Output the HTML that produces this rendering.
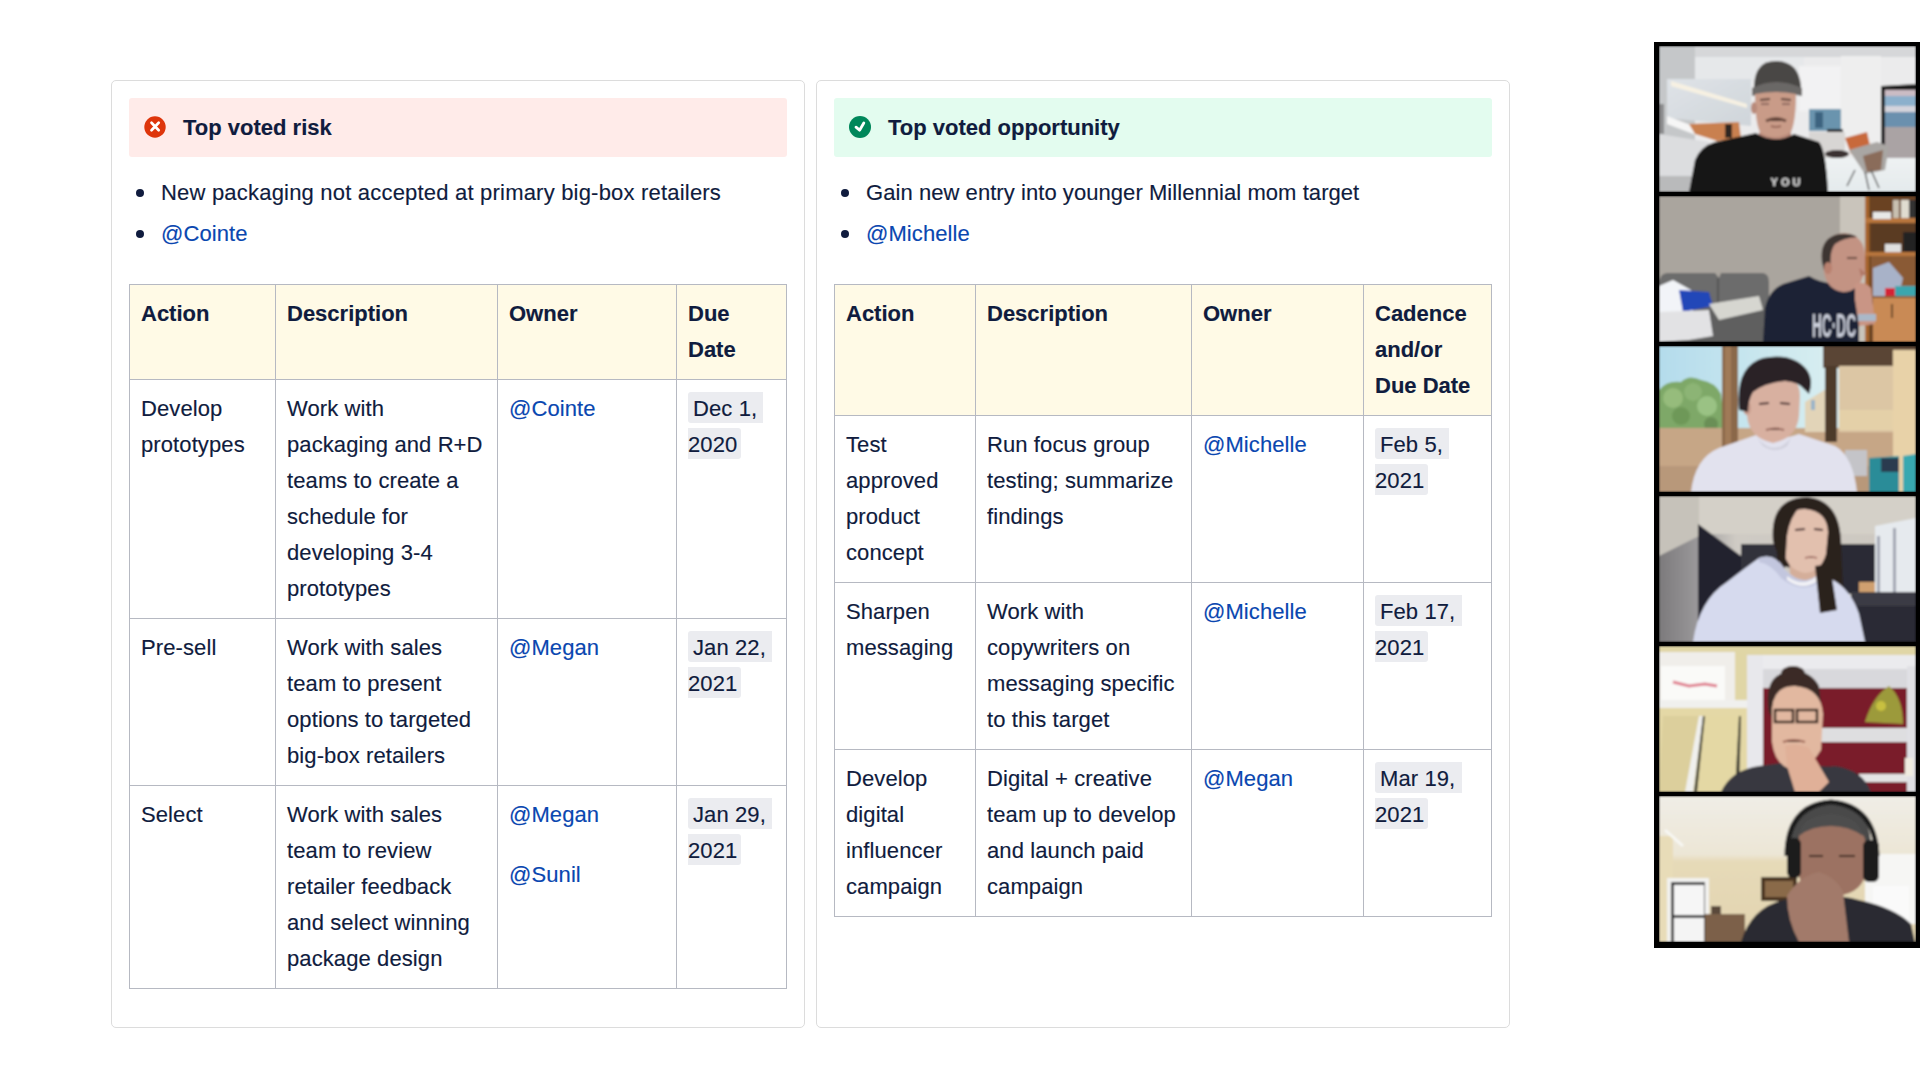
<!DOCTYPE html>
<html>
<head>
<meta charset="utf-8">
<style>
*{box-sizing:border-box;margin:0;padding:0}
html,body{width:1920px;height:1080px;overflow:hidden;background:#fff}
body{position:relative;font-family:"Liberation Sans",Arial,sans-serif;font-size:22px;line-height:36px;color:#101C3E;-webkit-text-stroke:0.15px currentColor}
.vid text{-webkit-text-stroke:0}
.panel{position:absolute;top:80px;width:694px;height:948px;border:1px solid #DCDCDC;border-radius:5px;background:#fff}
.p1{left:111px}
.p2{left:816px}
.hdr{position:absolute;left:17px;top:17px;width:658px;height:59px;border-radius:3px}
.hdr.red{background:#FFEBE9}
.hdr.green{background:#E3FCEF}
.hdr svg{position:absolute;left:15px;top:18px}
.hdr .t{position:absolute;left:54px;top:12px;font-weight:bold;white-space:nowrap}
ul.b{position:absolute;left:16px;top:94px;list-style:none}
ul.b li{position:relative;padding-left:33px;white-space:nowrap;height:36px;margin-bottom:4.6px}
ul.b li:before{content:"";position:absolute;left:8px;top:14px;width:8px;height:8px;border-radius:50%;background:#101C3E}
a{color:#0A47B0;text-decoration:none}
table{position:absolute;left:17px;top:203px;border-collapse:separate;border-spacing:0;border-left:1px solid #B6B9C2;border-top:1px solid #B6B9C2;table-layout:fixed}
td,th{border-right:1px solid #B6B9C2;border-bottom:1px solid #B6B9C2;padding:11px 10px 11px 11px;vertical-align:top;text-align:left;white-space:nowrap;font-weight:normal}
th{background:#FFFAE6;font-weight:bold}
.d{background:#EBECF0;border-radius:3px;padding:4px 4px 2px 5px;-webkit-box-decoration-break:slice;box-decoration-break:slice}
td p+p{margin-top:24px}
td,ul.b li{letter-spacing:0.1px}
.vid{position:absolute;left:1654px;top:42px;width:266px;height:906px;background:#000}
.tile{position:absolute;left:5px;width:257px;height:146px;overflow:hidden}
.tile svg{display:block}
</style>
</head>
<body>
<div class="panel p1">
  <div class="hdr red">
    <svg width="22" height="22" viewBox="0 0 22 22"><circle cx="11" cy="11" r="10.7" fill="#DE350B"/><path d="M7.5 6.8 L14.7 14.2 M14.7 6.8 L7.5 14.2" stroke="#fff" stroke-width="2.7" stroke-linecap="round"/></svg>
    <span class="t">Top voted risk</span>
  </div>
  <ul class="b">
    <li style="letter-spacing:0.2px">New packaging not accepted at primary big-box retailers</li>
    <li><a>@Cointe</a></li>
  </ul>
  <table>
    <colgroup><col style="width:146px"><col style="width:222px"><col style="width:179px"><col style="width:110px"></colgroup>
    <tr><th>Action</th><th>Description</th><th>Owner</th><th>Due<br>Date</th></tr>
    <tr><td>Develop<br>prototypes</td><td>Work with<br>packaging and R+D<br>teams to create a<br>schedule for<br>developing 3-4<br>prototypes</td><td><a>@Cointe</a></td><td><span class="d">Dec 1,&nbsp;<br>2020</span></td></tr>
    <tr><td>Pre-sell</td><td>Work with sales<br>team to present<br>options to targeted<br>big-box retailers</td><td><a>@Megan</a></td><td><span class="d">Jan 22,&nbsp;<br>2021</span></td></tr>
    <tr><td>Select</td><td>Work with sales<br>team to review<br>retailer feedback<br>and select winning<br>package design</td><td><p><a>@Megan</a></p><p><a>@Sunil</a></p></td><td><span class="d">Jan 29,&nbsp;<br>2021</span></td></tr>
  </table>
</div>
<div class="panel p2">
  <div class="hdr green">
    <svg width="22" height="22" viewBox="0 0 22 22"><circle cx="11" cy="11" r="11" fill="#00875A"/><path d="M7 11.2 L10.6 14.2 L14.8 7" stroke="#fff" stroke-width="2.8" fill="none" stroke-linecap="round" stroke-linejoin="round"/></svg>
    <span class="t">Top voted opportunity</span>
  </div>
  <ul class="b">
    <li style="letter-spacing:0.06px">Gain new entry into younger Millennial mom target</li>
    <li><a>@Michelle</a></li>
  </ul>
  <table>
    <colgroup><col style="width:141px"><col style="width:216px"><col style="width:172px"><col style="width:128px"></colgroup>
    <tr><th>Action</th><th>Description</th><th>Owner</th><th>Cadence<br>and/or<br>Due Date</th></tr>
    <tr><td>Test<br>approved<br>product<br>concept</td><td>Run focus group<br>testing; summarize<br>findings</td><td><a>@Michelle</a></td><td><span class="d">Feb 5,&nbsp;<br>2021</span></td></tr>
    <tr><td>Sharpen<br>messaging</td><td>Work with<br>copywriters on<br>messaging specific<br>to this target</td><td><a>@Michelle</a></td><td><span class="d">Feb 17,&nbsp;<br>2021</span></td></tr>
    <tr><td>Develop<br>digital<br>influencer<br>campaign</td><td>Digital + creative<br>team up to develop<br>and launch paid<br>campaign</td><td><a>@Megan</a></td><td><span class="d">Mar 19,&nbsp;<br>2021</span></td></tr>
  </table>
</div>
<svg width="0" height="0" style="position:absolute"><defs><filter id="bl" x="0" y="0" width="100%" height="100%"><feGaussianBlur stdDeviation="1.1"/></filter></defs></svg>
<div class="vid">
  <div class="tile" style="top:4px"><svg width="257" height="146" viewBox="0 0 257 146"><defs>
<linearGradient id="t1a" x1="0" y1="0" x2="1" y2="1"><stop offset="0" stop-color="#dfe3e7"/><stop offset="1" stop-color="#cfd5da"/></linearGradient>
<linearGradient id="t1f" x1="0" y1="0" x2="0" y2="1"><stop offset="0" stop-color="#eef2f3"/><stop offset="1" stop-color="#e4eaec"/></linearGradient>
</defs><g filter="url(#bl)">
<rect width="257" height="146" fill="#ebebec"/>
<rect x="0" y="0" width="257" height="11" fill="#d6d7d9"/>
<rect x="35" y="11" width="110" height="24" fill="#e6e8ea"/>
<rect x="0" y="0" width="36" height="132" fill="#c5c7c9"/>
<rect x="0" y="58" width="5" height="30" fill="#8a8a8c"/>
<path d="M8 33 L92 33 L92 80 L8 72Z" fill="url(#t1a)"/>
<path d="M12 35 L88 58 L88 62 L12 40Z" fill="#f7f1e2"/>
<path d="M8 70 L60 90 L58 97 L8 78Z" fill="#f6f6f6"/>
<path d="M0 88 L50 96 L50 132 L0 132Z" fill="#dcdddf"/>
<rect x="0" y="130" width="60" height="16" fill="#b9babb"/>
<path d="M30 78 L80 76 L82 92 L58 95 L36 88Z" fill="#c9804f"/>
<rect x="66" y="78" width="7" height="14" fill="#2e2624"/>
<rect x="140" y="20" width="42" height="45" fill="#f2f2f3"/>
<rect x="182" y="10" width="40" height="100" fill="#eeeeee"/>
<rect x="150" y="63" width="32" height="22" fill="#6a94ae"/>
<rect x="156" y="66" width="8" height="16" fill="#3c6480"/>
<rect x="168" y="83" width="16" height="9" fill="#222228"/>
<rect x="150" y="86" width="36" height="28" fill="#d8d6d4"/>
<path d="M222 40 L257 38 L257 119 L222 117Z" fill="#1b1b1b"/>
<rect x="226" y="44" width="31" height="6" fill="#cbbcc4"/>
<rect x="226" y="50" width="31" height="10" fill="#8cb0cc"/>
<rect x="226" y="60" width="31" height="6" fill="#d4d4dc"/>
<rect x="226" y="66" width="31" height="15" fill="#6a90ae"/>
<rect x="226" y="81" width="31" height="34" fill="#aaa3a4"/>
<rect x="140" y="112" width="117" height="34" fill="url(#t1f)"/>
<ellipse cx="178" cy="108" rx="12" ry="4" fill="#3a3232"/>
<path d="M186 92 L208 86 L212 104 L192 108Z" fill="#c8693b"/>
<path d="M190 104 L218 96 L230 100 L226 124 L206 128Z" fill="#a9a6a3"/>
<path d="M204 110 L224 104 L222 124 L208 126Z" fill="#8a6c5a"/>
<path d="M196 124 L188 140 M212 124 L220 142 M206 126 L210 144" stroke="#555" stroke-width="1.4"/>
<path d="M95 40 Q96 14 118 15 Q140 16 142 40 L142 46 L95 46Z" fill="#4a4745"/>
<path d="M93 42 Q117 30 143 42 L143 50 Q117 44 93 50Z" fill="#6b6866"/>
<path d="M96 48 Q96 84 104 90 Q116 98 128 92 Q137 84 137 48 Q117 44 96 48Z" fill="#c99b88"/>
<ellipse cx="95" cy="62" rx="3" ry="6" fill="#b88a7a"/>
<path d="M101 54 L111 53 M122 53 L132 54" stroke="#5a4038" stroke-width="2.2"/>
<path d="M102 58 L110 58 M123 58 L131 58" stroke="#7a5a50" stroke-width="1.6"/>
<path d="M107 75 Q117 70 127 75" stroke="#6a4a3e" stroke-width="3"/>
<path d="M112 80 Q117 82 122 80" stroke="#9a6a5a" stroke-width="2"/>
<path d="M100 86 Q116 96 132 86 L132 96 L100 96Z" fill="#b98a7a"/>
<path d="M30 146 L36 114 Q42 100 56 96 L97 87 Q116 99 135 88 L160 96 Q167 104 169 146Z" fill="#151515"/>
<text x="128" y="140" font-family="Liberation Sans,sans-serif" font-weight="bold" font-size="11" fill="#e6e6e6" text-anchor="middle" letter-spacing="3">YOU</text>
</g></svg></div>
  <div class="tile" style="top:154px"><svg width="257" height="146" viewBox="0 0 257 146"><g filter="url(#bl)">
<rect width="257" height="146" fill="#aaa59e"/>
<rect x="181" y="0" width="26" height="146" fill="#c9c4bb"/>
<rect x="206" y="0" width="51" height="146" fill="#6a4224"/>
<rect x="206" y="0" width="4" height="146" fill="#a8662e"/>
<rect x="206" y="22" width="51" height="5" fill="#b8763c"/>
<rect x="206" y="56" width="51" height="4" fill="#b8763c"/>
<rect x="212" y="27" width="45" height="29" fill="#5a3a22"/>
<rect x="234" y="4" width="6" height="18" fill="#c8c0b0"/>
<rect x="242" y="4" width="8" height="18" fill="#e0dcd0"/>
<rect x="250" y="4" width="7" height="18" fill="#303030"/>
<rect x="214" y="16" width="18" height="7" fill="#e8e8e8"/>
<rect x="244" y="36" width="13" height="20" fill="#202020"/>
<rect x="226" y="48" width="16" height="8" fill="#e0e0e0"/>
<rect x="212" y="60" width="45" height="44" fill="#8a5a34"/>
<path d="M214 72 L230 66 L244 82 L240 100 L214 100Z" fill="#a8b2c8"/>
<rect x="236" y="90" width="21" height="10" fill="#3aa6ae"/>
<rect x="226" y="92" width="10" height="8" fill="#d42434"/>
<rect x="214" y="102" width="43" height="44" fill="#c98a54"/>
<rect x="232" y="108" width="2" height="14" fill="#6a4a2a"/>
<path d="M0 88 Q0 78 8 77 L56 77 L60 82 L62 77 L104 77 Q110 78 110 86 L110 146 L0 146Z" fill="#6c6c6c"/>
<rect x="0" y="112" width="110" height="34" fill="#5e5e5e"/>
<rect x="58" y="82" width="2" height="30" fill="#555"/>
<path d="M0 90 L14 84 L32 94 L34 118 L0 122Z" fill="#f2f4f8"/>
<path d="M20 94 L50 96 L54 110 L24 116Z" fill="#2446b8"/>
<path d="M0 116 L50 114 L54 140 L30 144 L0 146Z" fill="#e2e2e4"/>
<path d="M50 108 L100 100 L104 114 L60 124Z" fill="#d6d6d0"/>
<path d="M104 146 L106 112 Q110 94 124 88 L150 80 Q170 92 190 84 L200 92 L200 146Z" fill="#1e2434"/>
<path d="M164 60 Q164 38 186 37 Q206 39 206 62 L206 74 Q201 96 184 96 Q168 94 165 76Z" fill="#c39383"/>
<path d="M163 66 Q160 42 180 38 Q192 37 198 41 Q184 42 176 48 Q170 56 172 72 L165 74Z" fill="#3e3432"/>
<path d="M200 72 L208 78 L202 80Z" fill="#b07868"/>
<ellipse cx="169" cy="72" rx="4" ry="6" fill="#b9816f"/>
<path d="M188 62 L198 62" stroke="#6a4a40" stroke-width="2"/>
<path d="M196 88 Q204 84 212 92 L216 128 L200 130 L196 104Z" fill="#c99585"/>
<rect x="199" y="118" width="18" height="7" fill="#aab8c8"/>
<text x="153" y="141" font-family="Liberation Sans,sans-serif" font-weight="bold" font-size="33" fill="#c9cdd9" textLength="44" lengthAdjust="spacingAndGlyphs">HC·DC</text>
</g></svg></div>
  <div class="tile" style="top:304px"><svg width="257" height="146" viewBox="0 0 257 146"><defs>
<linearGradient id="t3s" x1="0" y1="0" x2="1" y2="0"><stop offset="0" stop-color="#b4dcec"/><stop offset=".6" stop-color="#d4ecf0"/><stop offset="1" stop-color="#eef2ee"/></linearGradient>
</defs><g filter="url(#bl)">
<rect width="257" height="146" fill="url(#t3s)"/>
<path d="M0 44 Q8 34 22 36 Q30 28 42 34 Q56 36 62 48 L66 86 L0 88Z" fill="#7ea868"/>
<circle cx="14" cy="52" r="10" fill="#96bc7c"/><circle cx="34" cy="46" r="9" fill="#8cb474"/><circle cx="48" cy="60" r="10" fill="#9ac284"/><circle cx="22" cy="70" r="9" fill="#6e9858"/><circle cx="52" cy="78" r="7" fill="#6a8f56"/>
<rect x="0" y="82" width="257" height="64" fill="#c6a686"/>
<rect x="0" y="120" width="257" height="26" fill="#b8987a"/>
<rect x="63" y="0" width="16" height="102" fill="#8a6848"/>
<rect x="66" y="0" width="6" height="102" fill="#a07a58"/>
<path d="M146 56 L172 40 L178 86 L146 86Z" fill="#e2d4b8"/>
<rect x="152" y="54" width="4" height="10" fill="#9ab4c8"/>
<rect x="164" y="0" width="93" height="22" fill="#5a4434"/>
<rect x="180" y="20" width="58" height="66" fill="#dcc6a4"/>
<rect x="180" y="64" width="58" height="20" fill="#e4d0a8"/>
<rect x="166" y="20" width="12" height="76" fill="#4e3a2a"/>
<rect x="234" y="4" width="23" height="142" fill="#e8d2a8"/>
<rect x="186" y="104" width="22" height="26" fill="#c4c4c8"/>
<path d="M210 112 L240 110 L240 146 L210 146Z" fill="#2a8c98"/>
<path d="M244 110 L257 108 L257 146 L244 146Z" fill="#38a8b0"/>
<rect x="222" y="112" width="18" height="14" fill="#2a3a50"/>
<path d="M32 146 Q36 112 60 102 L100 88 Q118 96 140 88 L176 100 Q194 110 198 146Z" fill="#e2e2ee"/>
<path d="M98 92 Q116 112 132 92 L128 100 Q116 108 104 100Z" fill="#d0d0dc"/>
<path d="M88 50 Q88 28 114 28 Q141 28 141 50 L140 70 Q138 92 114 97 Q90 92 88 70Z" fill="#d8b0a0"/>
<ellipse cx="88" cy="62" rx="4" ry="7" fill="#c89c8c"/>
<path d="M80 64 Q76 20 104 12 Q134 6 148 24 Q155 34 150 48 L146 44 Q140 36 126 35 Q106 37 94 46 Q89 54 89 66Z" fill="#2a2428"/>
<path d="M100 58 L110 57 M121 57 L131 58" stroke="#4a3030" stroke-width="2.2"/>
<path d="M107 84 Q116 81 125 84" stroke="#9a6a5e" stroke-width="2"/>
</g></svg></div>
  <div class="tile" style="top:454px"><svg width="257" height="146" viewBox="0 0 257 146"><defs>
<linearGradient id="t4l" x1="0" y1="0" x2="1" y2="0"><stop offset="0" stop-color="#7c7a7c"/><stop offset=".15" stop-color="#9a989a"/><stop offset=".3" stop-color="#cfcbc4"/><stop offset="1" stop-color="#cdc8c0"/></linearGradient>
</defs><g filter="url(#bl)">
<rect width="257" height="146" fill="url(#t4l)"/>
<rect x="0" y="0" width="257" height="38" fill="#d4d0c8"/>
<path d="M0 0 L40 0 L40 40 L0 60Z" fill="#c6c2ba"/>
<path d="M39 28 L82 60 L82 146 L39 146Z" fill="#24242e"/>
<rect x="82" y="48" width="40" height="30" fill="#30303a"/>
<rect x="170" y="48" width="48" height="50" fill="#2c2c34"/>
<rect x="200" y="86" width="18" height="12" fill="#d0a070"/>
<path d="M216 30 L257 22 L257 112 L216 110Z" fill="#e6eaee"/>
<rect x="218" y="40" width="3" height="70" fill="#a0a4b0"/>
<rect x="234" y="32" width="3" height="78" fill="#a0a4b0"/>
<rect x="192" y="96" width="65" height="50" fill="#2c2c34"/>
<rect x="192" y="96" width="65" height="14" fill="#3a3a44"/>
<path d="M114 46 Q110 2 148 1 Q180 4 182 44 L185 114 L160 116 L156 78 L124 70Z" fill="#2c201e"/>
<path d="M130 64 L158 64 L160 88 L132 88Z" fill="#d4ae9a"/>
<path d="M124 32 Q126 13 146 13 Q168 15 169 36 L167 58 Q162 76 146 77 Q128 74 124 54Z" fill="#e2c0ae"/>
<path d="M118 58 Q115 14 142 10 Q131 20 128 40 L126 72 L119 70Z" fill="#2c201e"/>
<path d="M136 34 L146 33 M155 33 L164 34" stroke="#4a3030" stroke-width="2.2"/>
<path d="M146 62 Q152 60 158 62" stroke="#a06a60" stroke-width="1.6"/>
<path d="M34 146 Q40 104 68 86 Q86 72 100 62 Q116 56 126 74 Q144 92 160 78 L174 84 Q192 94 200 118 L206 146Z" fill="#d6daee"/>
<path d="M100 62 Q116 56 126 74 Q144 92 160 78 L164 84 Q144 100 122 82 Q112 68 100 66Z" fill="#c2c6de"/>
<path d="M128 80 Q144 92 158 80 L160 84 Q144 96 128 84Z" fill="#f2f2f6"/>
<path d="M156 70 L171 68 L178 114 L161 117Z" fill="#2c201e"/>
</g></svg></div>
  <div class="tile" style="top:604px"><svg width="257" height="146" viewBox="0 0 257 146"><g filter="url(#bl)">
<rect width="257" height="146" fill="#e0d6a6"/>
<rect x="0" y="6" width="76" height="52" fill="#f0eeea"/>
<rect x="2" y="20" width="64" height="36" fill="#fafaf8"/>
<path d="M14 36 L30 40 L46 38 L58 40" stroke="#e08090" stroke-width="3" fill="none"/>
<rect x="0" y="54" width="92" height="8" fill="#f0f0ee"/>
<path d="M0 62 L88 62 L88 146 L0 146Z" fill="#e4d8a6"/>
<path d="M4 70 L40 70 L30 146 L0 146Z" fill="#dccf9c"/>
<path d="M44 70 L82 70 L78 146 L36 146Z" fill="#e4d8a4"/>
<path d="M40 70 L44 70 L34 146 L26 146Z" fill="#f0f0ee"/>
<path d="M44 70 L46 70 L38 146 L35 146Z" fill="#3a3a30"/>
<path d="M80 70 L82 70 L80 146 L76 146Z" fill="#3a3a30"/>
<rect x="88" y="9" width="169" height="14" fill="#ebebee"/>
<rect x="88" y="9" width="16" height="137" fill="#e8e8ec"/>
<rect x="104" y="23" width="150" height="20" fill="#d8d8dc"/>
<rect x="104" y="42" width="150" height="104" fill="#7a1f2a"/>
<rect x="160" y="82" width="97" height="14" fill="#dedee0"/>
<rect x="200" y="128" width="57" height="8" fill="#e4e4e4"/>
<rect x="248" y="20" width="9" height="126" fill="#e0e0e4"/>
<path d="M206 76 Q214 50 230 40 Q244 52 244 78Z" fill="#9c9a3a"/>
<circle cx="222" cy="60" r="5" fill="#c8c040"/>
<rect x="246" y="112" width="8" height="18" fill="#f0ece0"/>
<path d="M62 146 Q72 124 100 120 L130 116 Q160 122 176 120 Q204 124 212 146Z" fill="#39393f"/>
<path d="M110 66 Q104 30 128 26 Q150 22 160 40 L162 60 L150 56 Q136 50 120 56 L114 74Z" fill="#3b2b25"/>
<ellipse cx="134" cy="28" rx="12" ry="8" fill="#3b2b25"/>
<path d="M113 62 Q115 40 136 40 Q162 42 164 68 L162 104 Q150 124 134 124 Q116 120 113 96Z" fill="#e2b8a0"/>
<path d="M116 64 L134 64 L134 76 L116 76Z M138 64 L158 64 L158 76 L138 76Z" fill="none" stroke="#3a2a24" stroke-width="2.5"/>
<path d="M124 96 Q134 92 146 96" stroke="#a06a5a" stroke-width="2"/>
<path d="M126 100 Q136 96 150 102 L170 136 L160 146 L136 146 L128 120Z" fill="#e0b098"/>
</g></svg></div>
  <div class="tile" style="top:754px"><svg width="257" height="146" viewBox="0 0 257 146"><defs>
<linearGradient id="t6c" x1="0" y1="0" x2="0" y2="1"><stop offset="0" stop-color="#f0ede6"/><stop offset=".4" stop-color="#ece6d6"/><stop offset=".45" stop-color="#e6dab8"/><stop offset="1" stop-color="#e2d4b0"/></linearGradient>
</defs><g filter="url(#bl)">
<rect width="257" height="146" fill="url(#t6c)"/>
<rect x="0" y="40" width="14" height="106" fill="#e8dcb8"/>
<path d="M6 34 L24 50" stroke="#f8f8f4" stroke-width="3"/>
<rect x="8" y="82" width="42" height="64" fill="#f2f2f0"/>
<rect x="12" y="86" width="34" height="60" fill="#303234"/>
<rect x="15" y="89" width="30" height="30" fill="#f6f6f6"/>
<rect x="15" y="122" width="30" height="24" fill="#f4f4f4"/>
<rect x="102" y="81" width="36" height="24" fill="#4a3424"/>
<rect x="106" y="85" width="28" height="16" fill="#8a6a4a"/>
<rect x="46" y="118" width="40" height="28" fill="#7c6048"/>
<rect x="52" y="110" width="10" height="8" fill="#5a4a3a"/>
<rect x="206" y="58" width="51" height="70" fill="#f6f6f4"/>
<rect x="214" y="90" width="36" height="36" fill="#fafafa"/>
<path d="M82 146 Q92 112 124 104 L150 100 Q180 98 200 104 Q236 112 252 128 L256 146Z" fill="#2b2b30"/>
<path d="M132 46 Q130 6 172 4 Q208 6 212 46 L212 60 L132 60Z" fill="#494949"/>
<path d="M140 40 Q140 30 172 28 Q204 30 206 44 L206 80 Q200 100 172 100 Q144 98 140 80Z" fill="#9c7262"/>
<path d="M140 40 Q142 20 172 18 Q200 20 204 40 Q190 30 172 30 Q152 30 140 40Z" fill="#4e4e4e"/>
<path d="M128 60 Q128 10 172 6 Q216 10 218 60" stroke="#1c1c1c" stroke-width="5" fill="none"/>
<rect x="128" y="42" width="14" height="40" rx="6" fill="#1a1a1a"/>
<rect x="204" y="44" width="16" height="42" rx="6" fill="#1a1a1a"/>
<path d="M150 60 L164 60 M180 60 L196 60" stroke="#3a2a24" stroke-width="2"/>
<path d="M128 100 Q140 80 160 76 Q178 82 184 96 L190 146 L140 146 Q128 124 128 100Z" fill="#a27a6a"/>
</g></svg></div>
</div>
</body>
</html>
